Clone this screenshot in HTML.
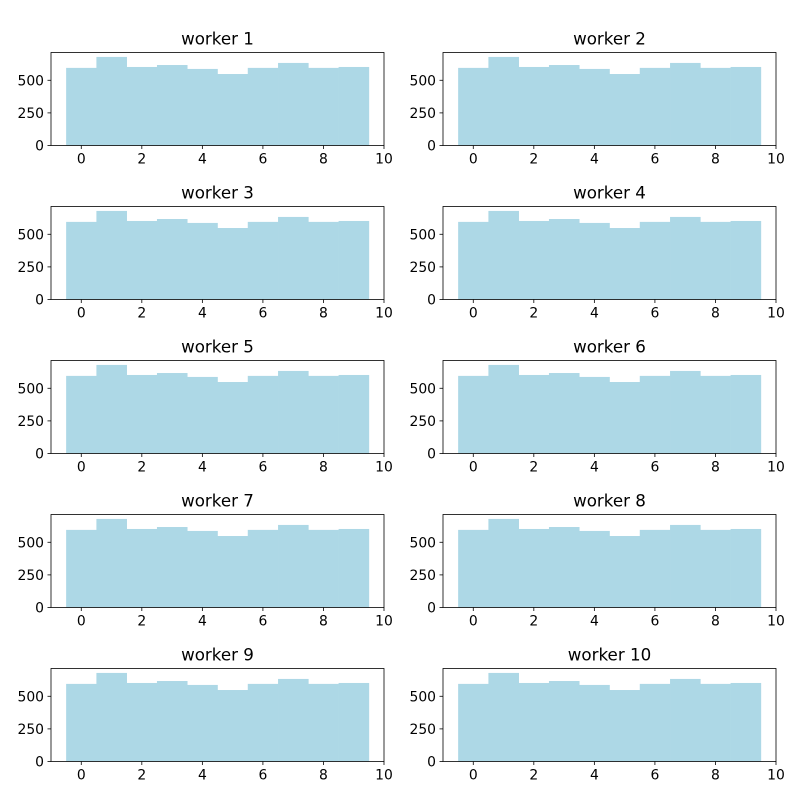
<!DOCTYPE html>
<html><head><meta charset="utf-8"><style>
body{margin:0;background:#fff;}
svg text{font-family:"DejaVu Sans","Liberation Sans",sans-serif;fill:#000;}
</style></head><body>
<svg id="fig" width="800" height="800" viewBox="0 0 800 800"></svg>
<script>
const workers = ["worker 1","worker 2","worker 3","worker 4","worker 5","worker 6","worker 7","worker 8","worker 9","worker 10"];
const binCenters = [0,1,2,3,4,5,6,7,8,9];
const counts = [595,679,602,617,587,548,595,633,595,602];
const xTicks = [0,2,4,6,8,10];
const yTicks = [0,250,500];
const NS="http://www.w3.org/2000/svg";
const svg=document.getElementById('fig');
function mk(t,a,p){const e=document.createElementNS(NS,t);for(const k in a)e.setAttribute(k,a[k]);(p||svg).appendChild(e);return e;}
const xMin=-1,xMax=10,yMax=Math.max(...counts)*1.05;
const W=333,H=93;
workers.forEach((name,i)=>{
  const col=i%2,row=Math.floor(i/2);
  const L=col?443:51,T=52.5+row*154;
  const g=mk('g',{});
  
  
  const xs=v=>L+(v-xMin)/(xMax-xMin)*W;
  const ys=v=>T+H-v/yMax*H;
  counts.forEach((c,j)=>{
    const r=mk('rect',{x:xs(binCenters[j]-0.5),y:ys(c),width:xs(binCenters[j]+0.5)-xs(binCenters[j]-0.5)+0.3,height:ys(0)-ys(c),fill:'#add8e6'},g);
    
    
  });
  const f=mk('rect',{x:L,y:T,width:W,height:H,fill:'none',stroke:'#000','stroke-width':0.8},g);
  
  
  xTicks.forEach(t=>{
    mk('line',{x1:xs(t),x2:xs(t),y1:T+H,y2:T+H+3.5,stroke:'#000','stroke-width':0.8},g);
    const tx=mk('text',{x:xs(t),y:T+H+18,'font-size':13.9,'text-anchor':'middle'},g);tx.textContent=t;
    
    
  });
  yTicks.forEach(t=>{
    mk('line',{x1:L-3.5,x2:L,y1:ys(t),y2:ys(t),stroke:'#000','stroke-width':0.8},g);
    const tx=mk('text',{x:L-7,y:ys(t)+5,'font-size':13.9,'text-anchor':'end'},g);tx.textContent=t;
    
    
  });
  const ti=mk('text',{x:L+W/2,y:T-8,'font-size':16.7,'text-anchor':'middle'},g);ti.textContent=name;
  
  
});
</script>
</body></html>
